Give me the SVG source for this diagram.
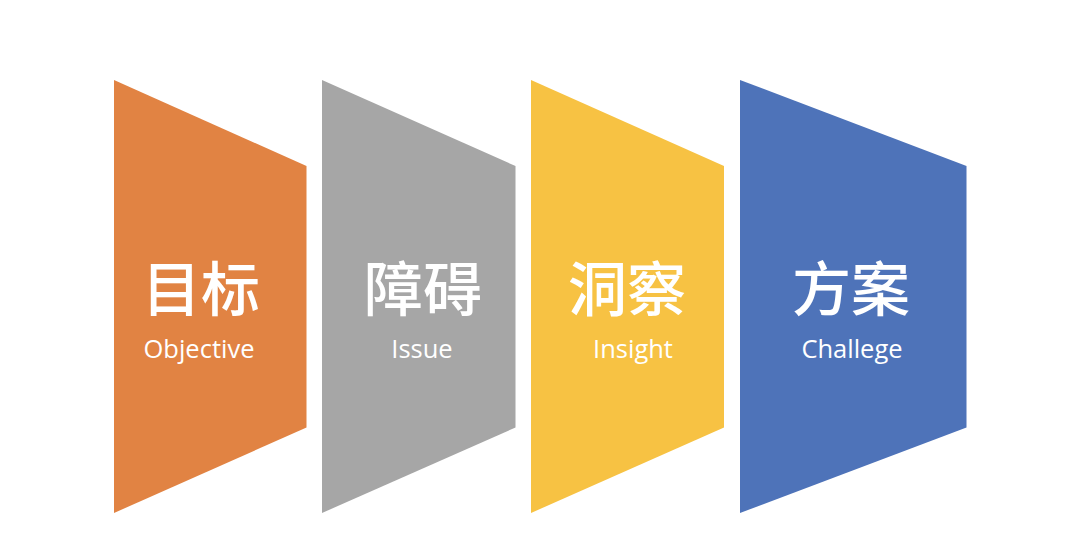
<svg xmlns="http://www.w3.org/2000/svg" width="1080" height="550" viewBox="0 0 1080 550">
<style>
.zh{font-family:"Noto Sans CJK SC","Noto Sans",sans-serif;font-size:59px;fill:#fff;text-anchor:middle;font-weight:500}
.en{font-family:"Open Sans","Noto Sans",sans-serif;font-size:25.5px;fill:#fff;text-anchor:middle}
</style>
<rect width="1080" height="550" fill="#fff"/>
<g id="node-objective">
<polygon points="114,80 306.5,166 306.5,427.5 114,513" fill="#E18343"/>
<text class="zh" x="201" y="311">目标</text>
<text class="en" x="199" y="358">Objective</text>
</g>
<g id="node-issue">
<polygon points="322,80 515.5,166 515.5,427.5 322,513" fill="#A6A6A6"/>
<text class="zh" x="423" y="311">障碍</text>
<text class="en" x="422" y="358">Issue</text>
</g>
<g id="node-insight">
<polygon points="531,80 724,166 724,427.5 531,513" fill="#F7C243"/>
<text class="zh" x="627" y="311">洞察</text>
<text class="en" x="633" y="358">Insight</text>
</g>
<g id="node-challege">
<polygon points="740,80 966.5,166 966.5,427.5 740,513" fill="#4E73B9"/>
<text class="zh" x="851" y="311">方案</text>
<text class="en" x="852" y="358">Challege</text>
</g>
<g id="connectors"></g>
</svg>
